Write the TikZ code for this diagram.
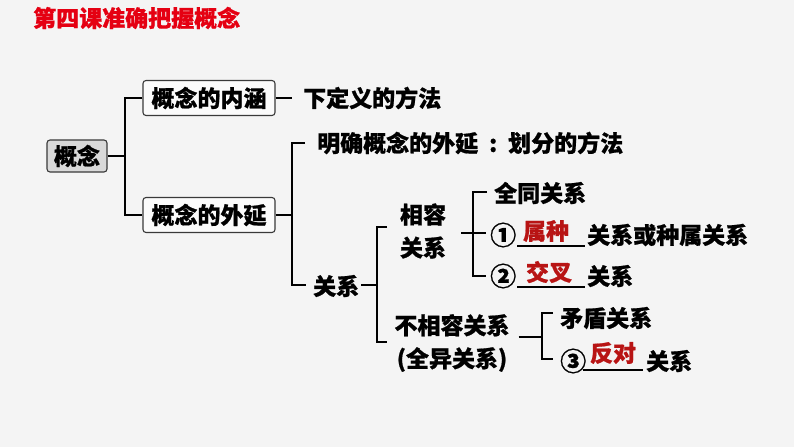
\documentclass[tikz,border=0pt]{standalone}
\usepackage{fontspec}
\setmainfont{Noto Sans CJK SC}[BoldFeatures={FakeBold=0.8}]
\definecolor{bgc}{HTML}{F4F4F4}
\definecolor{titlered}{HTML}{E50012}
\definecolor{ansred}{HTML}{B81414}
\definecolor{boxgray}{HTML}{D9D9D9}
\definecolor{boxline}{HTML}{3A3A3A}
\newcommand{\cnum}[1]{{\fontsize{26}{26}\selectfont #1}}
\begin{document}
\begin{tikzpicture}[x=1pt,y=-1pt,
  txt/.style={font=\fontsize{23}{33}\selectfont\bfseries, inner sep=0pt, text=black},
  ans/.style={font=\fontsize{23}{33}\selectfont\bfseries, inner sep=0pt, text=ansred},
  bx/.style={txt, draw=boxline, line width=1.1pt, rounded corners=3pt, minimum height=35pt},
  br/.style={line width=2.4pt, black},
  ul/.style={line width=1.2pt, black}]
\fill[bgc] (0,0) rectangle (794,447);
\useasboundingbox (0,0) rectangle (794,447);

% title
\node[font=\fontsize{23}{27}\selectfont\bfseries, text=titlered, inner sep=0pt, anchor=west] (title) at (33,18) {第四课准确把握概念};

% level 0/1
\node[bx, fill=boxgray, minimum width=60pt, minimum height=32pt] (root) at (77,156) {概念};
\node[bx, fill=white!60!bgc, minimum width=132pt] (nh) at (209,98) {概念的内涵};
\node[bx, fill=white!60!bgc, minimum width=132pt] (wy) at (209,215) {概念的外延};

\coordinate (b1) at (125,156);
\draw[br] (root.east) -- (b1);
\draw[br] (nh.west) -- (125,98) -- (125,215) -- (wy.west);

% level 2
\node[txt, anchor=west] (xdy) at (303,98) {下定义的方法};
\draw[br] (nh.east) -- ([xshift=-11pt]xdy.west);

\node[txt, anchor=west] (mq) at (317,143) {明确概念的外延\makebox[30pt]{:}划分的方法};
\node[txt, anchor=west] (gx) at (313,286) {关系};
\coordinate (b3) at (292,215);
\draw[br] (wy.east) -- (b3);
\draw[br] ([xshift=-12pt]mq.west) -- (292,143) -- (292,285) -- ([xshift=-7pt]gx.west |- 0,285);

% level 3
\node[txt, align=center, anchor=center] (xr) at (423,231) {相容\\关系};
\node[txt, align=center, anchor=center] (bxr) at (452,343) {不相容关系\\(全异关系)};
\coordinate (b4) at (377,285);
\draw[br] ([xshift=2pt]gx.east |- 0,285) -- (b4);
\draw[br] (387,227) -- (377,227) -- (377,342) -- (387,342);

% compatible relations
\node[txt, anchor=west] (qt) at (494,193) {全同关系};
\node[txt, anchor=west] (n1) at (490,235) {\cnum{①}};
\node[ans, anchor=center] (a1) at (546,231) {属种};
\node[txt, anchor=west] (t1) at (587,235) {关系或种属关系};
\node[txt, anchor=west] (n2) at (490,276) {\cnum{②}};
\node[ans, anchor=center] (a2) at (549,272) {交叉};
\node[txt, anchor=west] (t2) at (587,276) {关系};
\coordinate (u1a) at (517,246);
\coordinate (u1b) at (585,246);
\coordinate (u2a) at (517,287);
\coordinate (u2b) at (585,287);
\draw[ul] (u1a) -- (u1b);
\draw[ul] (u2a) -- (u2b);

\coordinate (b5) at (473,233);
\draw[br] ([xshift=15pt]xr.east |- 0,233) -- ([xshift=-4pt]n1.west |- 0,233);
\draw[br] ([xshift=-7pt]qt.west |- 0,192) -- (473,192) -- (473,276) -- ([xshift=-4pt]n2.west |- 0,276);

% incompatible relations
\node[txt, anchor=west] (md) at (560,318) {矛盾关系};
\node[txt, anchor=west] (n3) at (560,361) {\cnum{③}};
\node[ans, anchor=center] (a3) at (613,353) {反对};
\node[txt, anchor=west] (t3) at (646,361) {关系};
\coordinate (u3a) at (583,370);
\coordinate (u3b) at (643,370);
\draw[ul] (u3a) -- (u3b);

\coordinate (b6) at (542,337);
\draw[br] ([xshift=9pt]bxr.east |- 0,337) -- (b6);
\draw[br] ([xshift=-7pt]md.west |- 0,313) -- (542,313) -- (542,359) -- ([xshift=-7pt]n3.west |- 0,359);
\end{tikzpicture}
\end{document}
